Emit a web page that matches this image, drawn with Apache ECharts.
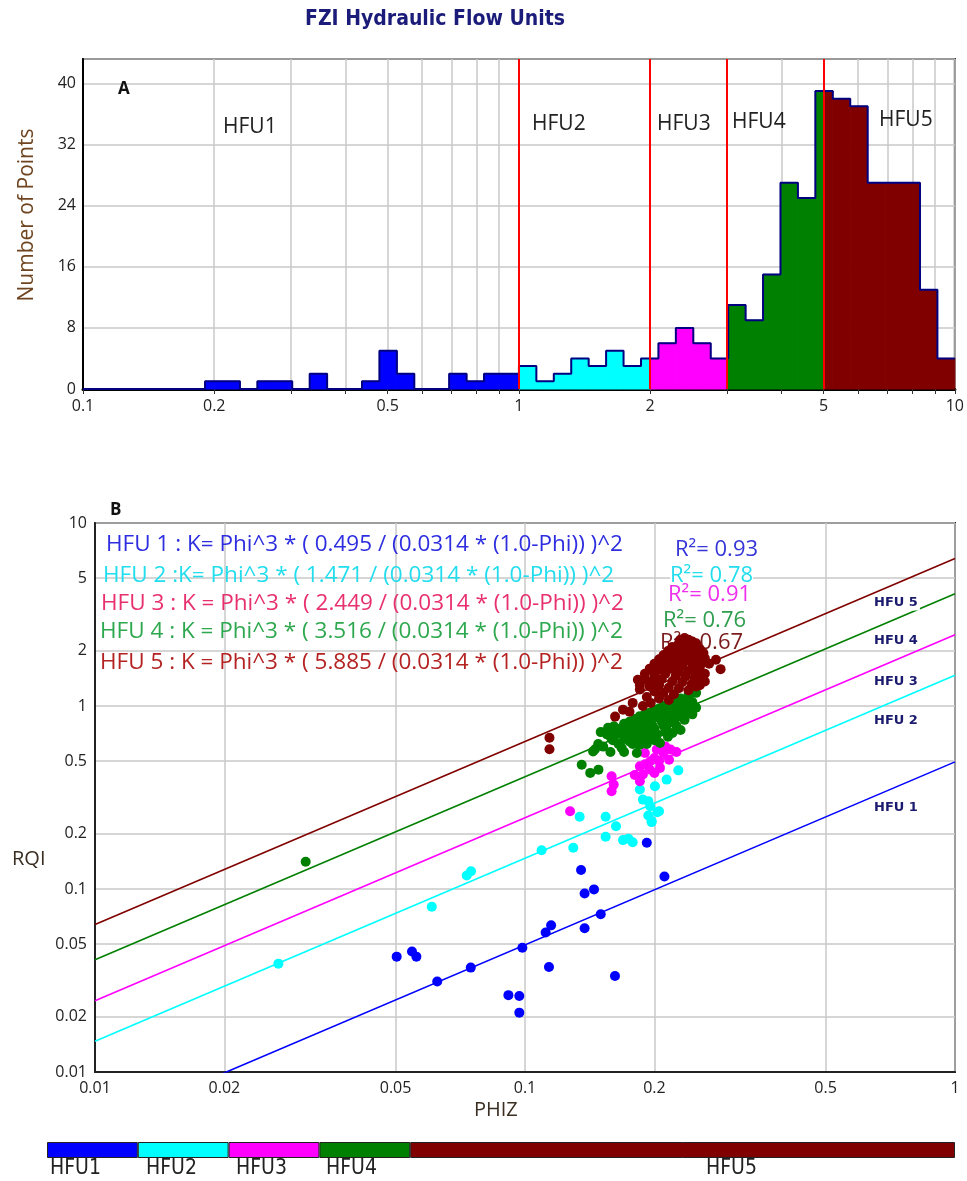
<!DOCTYPE html>
<html><head><meta charset="utf-8">
<script src="https://cdn.jsdelivr.net/npm/echarts@6/dist/echarts.min.js"></script>
<style>html,body{margin:0;padding:0;background:#fff}#c{width:967px;height:1181px}</style>
</head><body><div id="c"></div>
<script>
// ---------- Chart A : FZI histogram ----------
const binLogStart = -1;          // log10 of first bin edge (0.1)
const binLogWidth = 0.04;        // 50 equal log bins between 0.1 and 10
const binCounts = [0,0,0,0,0,0,0,1,1,0, 1,1,0,2,0,0,1,5,2,0,
                   0,2,1,2,2,3,1,2,4,3, 5,3,4,6,8,6,4,11,9,15,
                   27,25,39,38,37,27,27,27,13,4];
const hfuCuts = [1, 2, 3, 5];
const hfuNames = ['HFU1','HFU2','HFU3','HFU4','HFU5'];
const hfuColors = ['#0000FF','#00FFFF','#FF00FF','#008000','#800000'];
const histXLabels = [0.1, 0.2, 0.5, 1, 2, 5, 10];
const histXGrid = [0.1,0.2,0.3,0.4,0.5,0.6,0.7,0.8,0.9,1,2,3,4,5,6,7,8,9,10];
const histYTicks = [0, 8, 16, 24, 32, 40];

// ---------- Chart B : RQI vs PHIZ ----------
const phizLabels = [0.01, 0.02, 0.05, 0.1, 0.2, 0.5, 1];
const rqiLabels = [0.01, 0.02, 0.05, 0.1, 0.2, 0.5, 1, 2, 5, 10];
const lineFZI = [0.495, 1.471, 2.449, 4.1, 6.4];   // lines as drawn
const lineEnds = [0.01, 1];
const eqTexts = [
  'HFU 1 : K= Phi^3 * ( 0.495 / (0.0314 * (1.0-Phi)) )^2',
  'HFU 2 :K= Phi^3 * ( 1.471 / (0.0314 * (1.0-Phi)) )^2',
  'HFU 3 : K = Phi^3 * ( 2.449 / (0.0314 * (1.0-Phi)) )^2',
  'HFU 4 : K = Phi^3 * ( 3.516 / (0.0314 * (1.0-Phi)) )^2',
  'HFU 5 : K = Phi^3 * ( 5.885 / (0.0314 * (1.0-Phi)) )^2'
];
const eqColors = ['#2E2EE0','#22DDEE','#E8306E','#2EA84E','#B42222'];
const r2Values = ['0.93','0.78','0.91','0.76','0.67'];
const r2Colors = ['#3535D8','#22DDEE','#EE30EE','#2E9E4E','#7A1A1A'];

const ptsHFU1 = [[0.0503,0.0427],[0.0546,0.0455],[0.0559,0.0427],[0.0625,0.0312],[0.0748,0.0372],
  [0.0986,0.0478],[0.0915,0.0263],[0.097,0.026],[0.097,0.0211],[0.1117,0.0578],[0.115,0.0633],
  [0.1137,0.0375],[0.1376,0.0946],[0.1447,0.0995],[0.1376,0.061],[0.15,0.0727],[0.1619,0.0335],
  [0.135,0.127],[0.192,0.179],[0.211,0.117]];
const ptsHFU2 = [[0.0267,0.0391],[0.0607,0.080],[0.0732,0.1186],[0.0749,0.125],[0.1093,0.163],
  [0.1295,0.168],[0.134,0.248],[0.154,0.248],[0.154,0.193],[0.1628,0.22],[0.169,0.185],[0.174,0.188],
  [0.178,0.18],[0.1935,0.252],[0.197,0.232],[0.203,0.263],[0.1935,0.302],[0.185,0.35],[0.2005,0.364],
  [0.2135,0.396],[0.2273,0.445],[0.188,0.308],[0.1955,0.283],[0.205,0.266],[0.197,0.235]];
const ptsHFU3 = [[0.1273,0.266],[0.159,0.413],[0.1608,0.372],[0.159,0.342],[0.185,0.468],[0.188,0.422],
  [0.185,0.388],[0.1955,0.499],[0.2025,0.578],[0.21,0.554],[0.206,0.459],[0.2163,0.509],[0.218,0.578],
  [0.19,0.554],[0.2,0.52],[0.195,0.45],[0.212,0.6],[0.18,0.42],[0.2,0.43],[0.225,0.56],[0.19,0.48],[0.205,0.5]];
const ptsHFU4 = [[0.0309,0.141],[0.1355,0.478],[0.1418,0.431],[0.1482,0.449],[0.144,0.565],[0.1455,0.58],
  [0.15,0.72],[0.156,0.76],[0.161,0.74],[0.161,0.774],[0.1678,0.59],[0.182,0.554],[0.185,0.615],
  [0.177,0.655],[0.216,0.807],[0.2202,0.713],[0.206,0.628],[0.165,0.72],[0.17,0.8],[0.172,0.68],
  [0.175,0.75],[0.178,0.62],[0.18,0.85],[0.18,0.7],[0.185,0.78],[0.188,0.66],[0.19,0.9],[0.19,0.72],
  [0.195,0.82],[0.195,0.68],[0.2,0.95],[0.2,0.75],[0.2,0.65],[0.205,0.86],[0.21,1.0],[0.21,0.78],
  [0.212,0.72],[0.215,0.9],[0.215,0.68],[0.22,1.05],[0.22,0.82],[0.225,0.95],[0.225,0.78],[0.23,1.1],
  [0.23,0.88],[0.23,0.74],[0.235,1.0],[0.235,0.84],[0.24,1.15],[0.24,0.92],[0.245,1.05],[0.245,0.9],
  [0.25,1.18],[0.25,0.98],[0.155,0.7],[0.16,0.65],[0.165,0.62],[0.17,0.56],[0.158,0.56],[0.152,0.6],
  [0.175,0.82],[0.185,0.88],[0.195,0.92],[0.205,0.97],[0.215,1.02],[0.198,0.78],[0.208,0.82],
  [0.218,0.86],[0.228,0.9],[0.238,0.96],[0.17,0.66],[0.182,0.74],[0.192,0.62],
  [0.168,0.76],[0.178,0.79],[0.188,0.84],[0.198,0.88],[0.208,0.92],[0.218,0.96],[0.228,1.02],
  [0.238,1.08],[0.172,0.72],[0.183,0.68],[0.193,0.76],[0.203,0.7],[0.213,0.76],[0.223,0.84],
  [0.233,0.95],[0.243,0.98],[0.158,0.68],[0.163,0.7],[0.148,0.62],[0.175,0.64]];
const ptsHFU5 = [[0.114,0.67],[0.114,0.58],[0.162,0.875],[0.169,0.955],[0.178,1.04],[0.183,1.39],[0.185,1.23],
  [0.262,1.36],[0.278,1.79],[0.285,1.59],[0.268,1.7],
  [0.23,2.3],[0.235,2.35],[0.24,2.3],[0.245,2.25],[0.25,2.2],[0.228,2.2],[0.238,2.2],[0.22,2.1],
  [0.232,2.1],[0.244,2.1],[0.255,2.05],[0.215,2.0],[0.225,2.0],[0.236,2.0],[0.248,1.98],[0.26,1.95],
  [0.21,1.9],[0.22,1.88],[0.23,1.9],[0.242,1.88],[0.252,1.86],[0.262,1.82],[0.205,1.8],[0.215,1.78],
  [0.226,1.8],[0.236,1.76],[0.248,1.75],[0.258,1.72],[0.2,1.7],[0.21,1.68],[0.222,1.7],[0.232,1.66],
  [0.245,1.65],[0.255,1.62],[0.195,1.6],[0.205,1.58],[0.218,1.6],[0.228,1.56],[0.24,1.55],[0.252,1.52],
  [0.262,1.5],[0.19,1.5],[0.2,1.48],[0.212,1.5],[0.224,1.46],[0.236,1.45],[0.248,1.42],[0.258,1.4],
  [0.19,1.4],[0.198,1.38],[0.208,1.4],[0.22,1.36],[0.232,1.35],[0.244,1.32],[0.255,1.3],[0.185,1.3],
  [0.195,1.28],[0.205,1.3],[0.216,1.26],[0.228,1.25],[0.24,1.22],[0.25,1.28],[0.2,1.2],[0.21,1.18],
  [0.222,1.16],[0.205,1.1],[0.216,1.08],[0.192,1.12],[0.196,1.04],[0.188,1.0],[0.175,0.93]];
const ptsAll = [ptsHFU1, ptsHFU2, ptsHFU3, ptsHFU4, ptsHFU5];

// ---------- Bottom colour bar ----------
const barUnits = [1, 1, 1, 1, 6];

// ---------- build ----------
const pieces = [];
const outline = [];
binCounts.forEach((c, i) => {
  const lo = Math.pow(10, binLogStart + i * binLogWidth);
  const hi = Math.pow(10, binLogStart + (i + 1) * binLogWidth);
  outline.push([lo, c], [hi, c]);
  if (!c) return;
  const cuts = [lo, ...hfuCuts.filter(v => v > lo * 1.000001 && v < hi / 1.000001), hi];
  for (let k = 0; k < cuts.length - 1; k++) {
    const a = cuts[k], b = cuts[k + 1];
    const ci = hfuCuts.filter(v => v <= a * 1.000001).length;
    pieces.push([a, b, c, ci]);
  }
});
const fmt = v => String(+(+v).toPrecision(6));
const FONT = "'Open Sans', 'Noto Sans', sans-serif";

const chart = echarts.init(document.getElementById('c'));

const series = [];
series.push({
  type: 'custom', xAxisIndex: 0, yAxisIndex: 0, z: 2,
  data: pieces, encode: { x: [0, 1], y: 2 },
  renderItem: (params, api) => {
    const p0 = api.coord([api.value(0), api.value(2)]);
    const p1 = api.coord([api.value(1), 0]);
    const col = hfuColors[api.value(3)];
    return { type: 'rect', shape: { x: p0[0], y: p0[1], width: p1[0] - p0[0], height: p1[1] - p0[1] },
             style: { fill: col, stroke: col, lineWidth: 1 } };
  }
});
series.push({
  type: 'line', xAxisIndex: 0, yAxisIndex: 0, z: 3, data: outline, showSymbol: false, silent: true,
  lineStyle: { color: '#000080', width: 2 },
  markLine: { symbol: 'none', silent: true, label: { show: false },
    lineStyle: { color: '#FF0000', width: 2, type: 'solid' },
    data: hfuCuts.map(v => ({ xAxis: v })) }
});
lineFZI.forEach((f, i) => {
  series.push({ type: 'line', xAxisIndex: 1, yAxisIndex: 1, z: 2, showSymbol: false, silent: true,
    data: lineEnds.map(p => [p, f * p]), lineStyle: { color: hfuColors[i], width: 1.6 } });
});
ptsAll.forEach((pts, i) => {
  series.push({ type: 'scatter', xAxisIndex: 1, yAxisIndex: 1, z: 4, data: pts,
    symbol: 'circle', symbolSize: 10, itemStyle: { color: hfuColors[i], opacity: 1 } });
});
barUnits.forEach((u, i) => {
  series.push({ type: 'bar', xAxisIndex: 2, yAxisIndex: 2, stack: 'bar', data: [u], barWidth: 16,
    itemStyle: { color: hfuColors[i], borderColor: '#222', borderWidth: 1 } });
});

const txt = (text, x, y, font, fill, extra) => ({
  type: 'text', x, y, z: 50,
  style: Object.assign({ text, font, fill, textAlign: 'left', textVerticalAlign: 'middle' }, extra || {})
});

const graphics = [];
graphics.push(txt('FZI Hydraulic Flow Units', 435, 20, "bold 21px 'DejaVu Sans Condensed', 'DejaVu Sans', sans-serif", '#1b1b7a', { textAlign: 'center' }));
graphics.push(txt('A', 118, 89, "bold 17px " + FONT, '#111'));
graphics.push(Object.assign(txt('Number of Points', 27, 215, "21px " + FONT, '#6e4520', { textAlign: 'center' }), { rotation: Math.PI / 2 }));
const histLabelPos = [[223,127],[532,124],[657,124],[732,122],[879,120]];
hfuNames.forEach((n, i) => graphics.push(txt(n, histLabelPos[i][0], histLabelPos[i][1], "21px " + FONT, '#222')));
graphics.push(txt('B', 110, 510, "bold 17px " + FONT, '#111'));
const eqPos = [[106,545],[103,576],[101,604],[100,632],[100,663]];
eqTexts.forEach((t, i) => graphics.push(Object.assign(txt(t, eqPos[i][0], eqPos[i][1], "22.5px " + FONT, eqColors[i]), { z: 1 })));
const r2Pos = [[675,550],[670,576],[668,595],[663,621],[660,643]];
r2Values.forEach((v, i) => graphics.push(Object.assign(txt('R\u00B2= ' + v, r2Pos[i][0], r2Pos[i][1], "22px " + FONT, r2Colors[i], { backgroundColor: '#fff' }), { z: 1 })));
const hfuBPos = [[872,808],[872,721],[872,682],[872,641],[872,603]];
hfuBPos.forEach((p, i) => graphics.push(txt('HFU ' + (i + 1), p[0], p[1], "bold 13px 'DejaVu Sans', sans-serif", '#1a1a6e', { backgroundColor: '#fff', padding: [1, 2] })));
graphics.push(txt('RQI', 12, 859, "20px " + FONT, '#3a2e22'));
graphics.push(txt('PHIZ', 474, 1110, "20px " + FONT, '#3a2e22'));
const barLabelX = [50, 146, 236, 326, 706];
hfuNames.forEach((n, i) => graphics.push(txt(n, barLabelX[i], 1169, "21px 'Liberation Sans Narrow', 'DejaVu Sans Condensed', sans-serif", '#222')));

const gridLine = { show: true, lineStyle: { color: '#c8c8c8', width: 1.5 } };
const lab = { fontFamily: FONT, fontSize: 16, color: '#222' };

chart.setOption({
  animation: false,
  backgroundColor: '#fff',
  grid: [
    { left: 83, right: 10, top: 59, height: 330, show: true, borderColor: '#111', borderWidth: 2, backgroundColor: 'transparent' },
    { left: 95, right: 12, top: 523, height: 549, show: true, borderColor: '#222', borderWidth: 2, backgroundColor: 'transparent' },
    { left: 47, right: 12, top: 1142, height: 16 }
  ],
  xAxis: [
    { gridIndex: 0, type: 'log', logBase: 10, min: 0.1, max: 10,
      axisLine: { show: true, lineStyle: { color: '#000', width: 3 } },
      axisTick: { show: true, customValues: histXGrid, length: 5, lineStyle: { color: '#333' } },
      axisLabel: Object.assign({ customValues: histXLabels, formatter: fmt, margin: 9 }, lab),
      splitLine: gridLine },
    { gridIndex: 1, type: 'log', logBase: 10, min: 0.01, max: 1,
      axisLine: { show: true, lineStyle: { color: '#222', width: 2 } },
      axisTick: { show: false, customValues: phizLabels },
      axisLabel: Object.assign({ customValues: phizLabels, formatter: fmt, margin: 8 }, lab),
      splitLine: gridLine },
    { gridIndex: 2, type: 'value', min: 0, max: 10, show: false }
  ],
  yAxis: [
    { gridIndex: 0, type: 'value', min: 0, max: 43.2, interval: 8,
      axisLine: { show: true, lineStyle: { color: '#000', width: 2 } },
      axisTick: { show: false },
      axisLabel: Object.assign({ showMaxLabel: false, margin: 7 }, lab),
      splitLine: gridLine },
    { gridIndex: 1, type: 'log', logBase: 10, min: 0.01, max: 10,
      axisLine: { show: true, lineStyle: { color: '#222', width: 2 } },
      axisTick: { show: false, customValues: rqiLabels },
      axisLabel: Object.assign({ customValues: rqiLabels, formatter: fmt, margin: 8 }, lab),
      splitLine: gridLine },
    { gridIndex: 2, type: 'category', data: ['bar'], show: false }
  ],
  graphic: graphics,
  series
});
</script></body></html>
